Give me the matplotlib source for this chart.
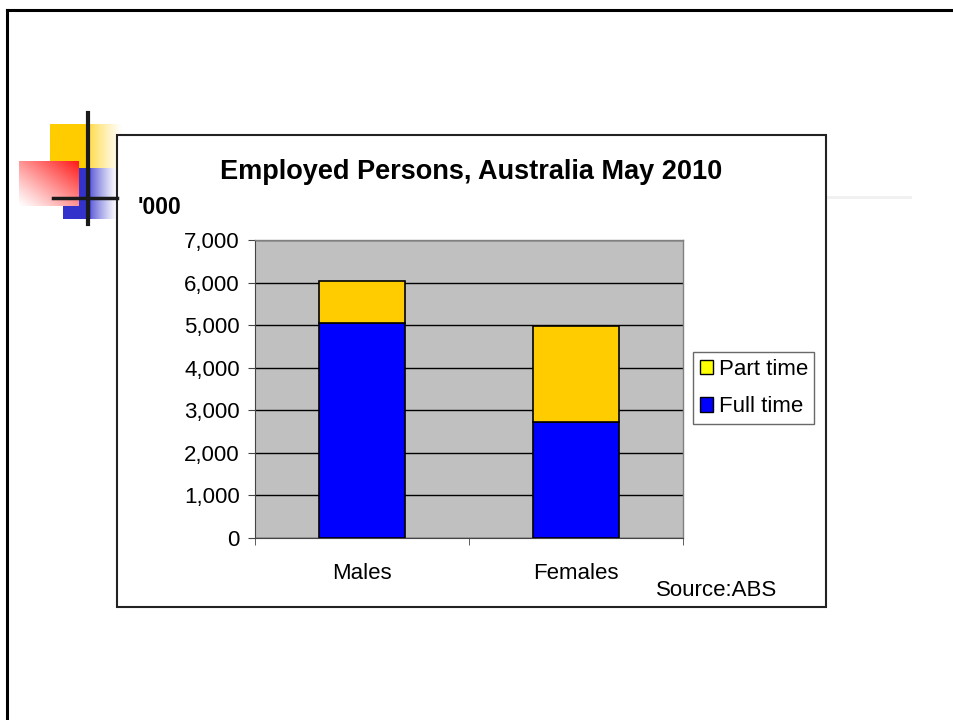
import matplotlib.pyplot as plt
import numpy as np
from matplotlib.patches import Rectangle, Patch
from matplotlib.ticker import FuncFormatter

plt.rcParams["font.family"] = ["Liberation Sans", "DejaVu Sans"]

W, H = 954, 720

categories = ["Males", "Females"]
full_time = [5040, 2720]
part_time = [990, 2270]
series_names = ["Part time", "Full time"]
y_ticks = [0, 1000, 2000, 3000, 4000, 5000, 6000, 7000]


def box(x0, y0, x1, y1):
    # pixel box (top-left origin) -> figure fraction [left, bottom, width, height]
    return [x0 / W, 1 - y1 / H, (x1 - x0) / W, (y1 - y0) / H]


def gradient(fig, rect, rgb, direction):
    ax = fig.add_axes(box(*rect), zorder=1)
    n = 64
    t = np.linspace(0, 1, n)
    if direction == "right":
        a = np.tile(np.clip(1.6 - 1.6 * t, 0, 1) ** 1.2, (n, 1))
        a[:, : n // 2] = 1
    else:
        xx, yy = np.meshgrid(t, t)
        a = np.clip((xx + (1 - yy)) / 2, 0, 1) ** 1.1
    # blend towards white, fully opaque
    img = np.ones((n, n, 3))
    for i in range(3):
        img[..., i] = rgb[i] * a + (1 - a)
    ax.imshow(img, aspect="auto", interpolation="bilinear")
    ax.axis("off")


fig = plt.figure(figsize=(W / 100, H / 100), dpi=100, facecolor="white")

# slide frame (top and left edges)
fig.add_artist(plt.Line2D([7 / W, 1], [1 - 10 / H, 1 - 10 / H], color="black", lw=2.2))
fig.add_artist(plt.Line2D([7 / W, 7 / W], [0, 1 - 10 / H], color="black", lw=2.2))

# faint rule to the right of the chart
fig.add_artist(plt.Line2D([826 / W, 910 / W], [1 - 197 / H, 1 - 197 / H], color="#f0f0f0", lw=2))

# decorative squares
gradient(fig, (50, 124, 123, 168), (1.0, 0.8, 0.0), "right")
gradient(fig, (63, 168, 118, 219), (0.2, 0.2, 0.8), "right")
gradient(fig, (19, 161, 79, 206), (1.0, 0.1, 0.1), "diag")
fig.add_artist(plt.Line2D([88 / W, 88 / W], [1 - 113 / H, 1 - 224 / H], color="#1a1a1a", lw=3, zorder=5))
fig.add_artist(plt.Line2D([53 / W, 117 / W], [1 - 198 / H, 1 - 198 / H], color="#1a1a1a", lw=2.5, zorder=5))

# chart box
fig.add_artist(Rectangle((117 / W, 1 - 607 / H), (826 - 117) / W, (607 - 135) / H,
                         transform=fig.transFigure, facecolor="white", edgecolor="#222222", lw=1.5, zorder=2))

ax = fig.add_axes(box(255, 240, 683, 538), zorder=3)
ax.set_facecolor("#c0c0c0")
x = np.arange(len(categories))
ax.bar(x, full_time, width=0.4, color="#0000ff", edgecolor="black", lw=1.2, zorder=3)
ax.bar(x, part_time, width=0.4, bottom=full_time, color="#ffcc00", edgecolor="black", lw=1.2, zorder=3)

ax.set_xlim(-0.5, 1.5)
ax.set_ylim(0, 7000)
ax.set_yticks(y_ticks)
ax.yaxis.set_major_formatter(FuncFormatter(lambda v, p: f"{int(v):,}"))
ax.grid(axis="y", color="black", lw=1, zorder=1)
ax.set_axisbelow(True)
ax.set_xticks(x)
ax.set_xticklabels(categories)
ax.set_xticks([-0.5, 0.5, 1.5], minor=True)
ax.tick_params(axis="x", which="major", length=0, pad=18, labelsize=16)
ax.tick_params(axis="x", which="minor", length=5, direction="out", color="#444444")
ax.tick_params(axis="y", length=5, direction="out", color="#444444", labelsize=16, pad=6)
for side in ["top", "right"]:
    ax.spines[side].set_color("#808080")
    ax.spines[side].set_linewidth(1)
ax.spines["left"].set_color("#444444")
ax.spines["bottom"].set_color("#444444")

handles = [Patch(facecolor="#ffff00", edgecolor="black"), Patch(facecolor="#0000ff", edgecolor="black")]
leg = fig.legend(handles, series_names, loc="upper left", bbox_to_anchor=(693 / W, 1 - 352 / H),
                 fontsize=16, frameon=True, fancybox=False, edgecolor="#444444",
                 handlelength=0.6, handleheight=0.6, handletextpad=0.25, labelspacing=0.75,
                 borderpad=0.3, borderaxespad=0)
leg.set_zorder(6)
leg.get_frame().set_linewidth(1)

fig.text(471 / W, 1 - 172 / H, "Employed Persons, Australia May 2010", ha="center", va="center",
         fontsize=19.5, fontweight="bold", zorder=6)
fig.text(138 / W, 1 - 208 / H, "'000", ha="left", va="center", fontsize=16.5, fontweight="bold", zorder=6)
fig.text(717 / W, 1 - 591 / H, "Source:ABS", ha="center", va="center", fontsize=16, zorder=6)

fig.savefig("out.png", dpi=100)
